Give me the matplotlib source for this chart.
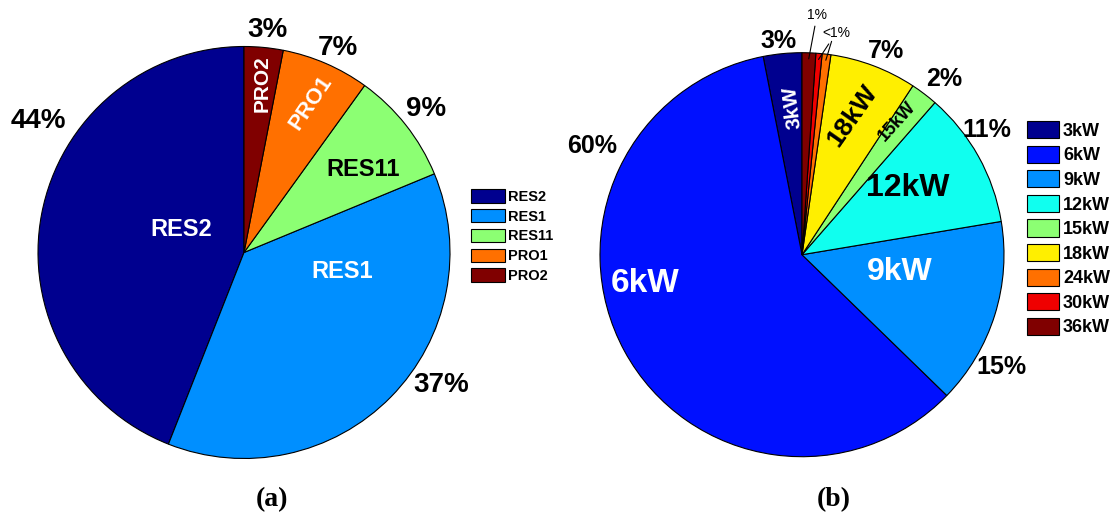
import matplotlib
matplotlib.use("Agg")
import matplotlib.pyplot as plt
import numpy as np

plt.rcParams["font.family"] = ["Liberation Sans", "DejaVu Sans"]

W, H = 1115, 521

# (a) share of load by feeder type
feeders = ["RES2", "RES1", "RES11", "PRO1", "PRO2"]
feeder_share = [44.0, 37.2, 8.8, 6.9, 3.05]
feeder_pct = ["44%", "37%", "9%", "7%", "3%"]
feeder_colors = ["#00008F", "#008FFF", "#8CFF73", "#FF7000", "#800000"]

# (b) share by installed PV size
pv_sizes = ["3kW", "6kW", "9kW", "12kW", "15kW", "18kW", "24kW", "30kW", "36kW"]
pv_share = [3.1, 60.0, 15.0, 11.0, 2.2, 7.0, 0.7, 0.5, 1.1]
pv_pct = ["3%", "60%", "15%", "11%", "2%", "7%", "<1%", "<1%", "1%"]
pv_colors = ["#00008F", "#0010FF", "#008FFF", "#10FFEF", "#8CFF73",
             "#FFEF00", "#FF7000", "#EF0000", "#800000"]


def py(y):
    # pixel row (top down) -> data y (bottom up)
    return H - y


def rim_point(w, frac=0.97):
    t = np.deg2rad((w.theta1 + w.theta2) / 2)
    cx, cy = w.center
    return cx + w.r * frac * np.cos(t), cy + w.r * frac * np.sin(t)


fig = plt.figure(figsize=(W / 100, H / 100), dpi=100)
ax = fig.add_axes([0, 0, 1, 1])

edge = dict(edgecolor="black", linewidth=0.8)
wedges_a, _ = ax.pie(feeder_share, colors=feeder_colors, startangle=90,
                     counterclock=True, center=(244, py(252.5)), radius=206,
                     wedgeprops=edge)
wedges_b, _ = ax.pie(pv_share, colors=pv_colors, startangle=90,
                     counterclock=True, center=(802, py(254.7)), radius=202,
                     wedgeprops=edge)
ax.set_xlim(0, W)
ax.set_ylim(0, H)
ax.set_aspect("auto")
ax.axis("off")

# labels inside wedges: (x, y, rotation, size, color)
feeder_inner = [
    (181, 229, 0, 17, "white"),
    (342, 271, 0, 17, "white"),
    (363, 170, 0, 17, "black"),
    (311, 103, 56, 16, "white"),
    (262, 84, 90, 15, "white"),
]
for name, (x, y, rot, fs, c) in zip(feeders, feeder_inner):
    ax.text(x, py(y), name, rotation=rot, fontsize=fs, color=c,
            fontweight="bold", ha="center", va="center")

feeder_outer = [(38, 121), (441, 385), (426, 109), (338, 48), (267, 30)]
for pct, (x, y) in zip(feeder_pct, feeder_outer):
    ax.text(x, py(y), pct, fontsize=20, fontweight="bold",
            ha="center", va="center")

pv_inner = {
    "3kW": (792, 107, 97, 15, "white"),
    "6kW": (645, 284, 0, 24, "white"),
    "9kW": (900, 272, 0, 23, "white"),
    "12kW": (908, 188, 0, 23, "black"),
    "15kW": (897, 122, 48, 13, "black"),
    "18kW": (852, 116, 55, 19, "black"),
}
for name, (x, y, rot, fs, c) in pv_inner.items():
    ax.text(x, py(y), name, rotation=rot, fontsize=fs, color=c,
            fontweight="bold", ha="center", va="center")

pv_outer = [(779, 41), (592, 146), (1001, 367), (987, 130), (944, 79), (886, 51)]
for pct, (x, y) in zip(pv_pct[:6], pv_outer):
    ax.text(x, py(y), pct, fontsize=18, fontweight="bold",
            ha="center", va="center")

line = dict(arrowstyle="-", color="black", lw=0.8, shrinkA=1, shrinkB=0)
ax.annotate(pv_pct[8], xy=rim_point(wedges_b[8]), xytext=(817, py(15)),
            fontsize=10, ha="center", va="center", arrowprops=line)
ax.annotate(pv_pct[6], xy=rim_point(wedges_b[7]), xytext=(836, py(33)),
            fontsize=10, ha="center", va="center", arrowprops=line)
ax.annotate("", xy=rim_point(wedges_b[6]), xytext=(832, py(40)),
            arrowprops=line)

fig.legend(wedges_a, feeders, loc="upper left",
           bbox_to_anchor=(471 / W, 1 - 189 / H), frameon=False,
           prop=dict(size=10.5, weight="bold"), handlelength=2.3,
           handleheight=1.05, labelspacing=0.35, handletextpad=0.25,
           borderpad=0, borderaxespad=0)
fig.legend(wedges_b, pv_sizes, loc="upper left",
           bbox_to_anchor=(1027 / W, 1 - 121 / H), frameon=False,
           prop=dict(size=13, weight="bold"), handlelength=1.75,
           handleheight=1.1, labelspacing=0.32, handletextpad=0.25,
           borderpad=0, borderaxespad=0)

for lab, x in [("(a)", 272), ("(b)", 834)]:
    ax.text(x, py(500), lab, fontsize=20, fontweight="bold",
            family="Liberation Serif", ha="center", va="center")

fig.savefig("out.png", dpi=100)
